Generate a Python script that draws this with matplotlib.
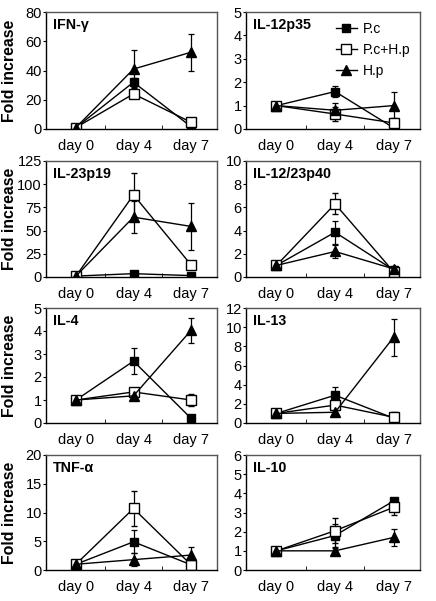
import matplotlib
matplotlib.use("Agg")
import matplotlib.pyplot as plt
from matplotlib.lines import Line2D
import numpy as np

plt.rcParams['font.family'] = ['Liberation Sans', 'DejaVu Sans']

days = ["day 0", "day 4", "day 7"]
series_names = ["P.c", "P.c+H.p", "H.p"]

panel_titles = ["IFN-\u03b3", "IL-12p35", "IL-23p19", "IL-12/23p40",
                "IL-4", "IL-13", "TNF-\u03b1", "IL-10"]
y_max = [80, 5, 125, 10, 5, 12, 20, 6]
y_step = [20, 1, 25, 2, 1, 2, 5, 1]

# values: [P.c, P.c+H.p, H.p] each over day 0, 4, 7
ifn_vals = [[1, 32, 1.6], [1, 24, 4.6], [1, 41, 52.5]]
ifn_err = [[0, 3, 0], [0, 3, 0], [0, 13, 12.5]]
p35_vals = [[1, 1.6, 0.05], [1, 0.64, 0.26], [1, 0.8, 1.0]]
p35_err = [[0, 0.22, 0], [0, 0.3, 0.2], [0, 0.32, 0.57]]
p19_vals = [[1, 3.6, 1.5], [1, 88.5, 13], [1, 64.5, 54.5]]
p19_err = [[0, 1, 0], [0, 24, 0], [0, 17, 25.5]]
p40_vals = [[1, 3.86, 0.6], [1, 6.3, 0.45], [1, 2.2, 0.7]]
p40_err = [[0, 1.0, 0.2], [0, 0.9, 0.2], [0, 0.56, 0.22]]
il4_vals = [[1, 2.69, 0.2], [1, 1.35, 1.0], [1, 1.18, 4.03]]
il4_err = [[0, 0.55, 0], [0, 0.1, 0.25], [0, 0.2, 0.53]]
il13_vals = [[1, 2.9, 0.5], [1, 1.87, 0.6], [1, 1.12, 8.95]]
il13_err = [[0, 0.9, 0.5], [0, 0.3, 0.6], [0, 0.2, 1.95]]
tnf_vals = [[1, 4.9, 0.9], [1, 10.7, 0.9], [1, 1.8, 2.6]]
tnf_err = [[0, 2.0, 0], [0, 3.0, 0], [0, 1.1, 1.4]]
il10_vals = [[1, 1.8, 3.6], [1, 2.05, 3.27], [1, 1.0, 1.7]]
il10_err = [[0, 0.6, 0], [0, 0.65, 0.4], [0, 0.15, 0.45]]

all_vals = [ifn_vals, p35_vals, p19_vals, p40_vals, il4_vals, il13_vals, tnf_vals, il10_vals]
all_errs = [ifn_err, p35_err, p19_err, p40_err, il4_err, il13_err, tnf_err, il10_err]

W, H = 436, 601
fig = plt.figure(figsize=(W / 100, H / 100), dpi=100)

# pixel layout (top, bottom) and (left, right)
row_tb = [(12, 129), (161, 277), (308, 423), (455, 570)]
col_lr = [(46, 217), (246, 420)]

markers = [dict(marker='s', mfc='black', mec='black', ms=6),
           dict(marker='s', mfc='white', mec='black', ms=7, mew=1),
           dict(marker='^', mfc='black', mec='black', ms=7)]

x = np.arange(3)
for i in range(8):
    r, c = divmod(i, 2)
    t, b = row_tb[r]
    l, rr = col_lr[c]
    ax = fig.add_axes([l / W, 1 - b / H, (rr - l) / W, (b - t) / H])
    vals = all_vals[i]
    errs = all_errs[i]
    for s in range(3):
        ax.errorbar(x, vals[s], yerr=errs[s], color='black', lw=1.0,
                    elinewidth=0.9, capsize=2, capthick=0.9,
                    **markers[s])
    ax.set_xlim(-0.52, 2.45)
    ax.set_ylim(0, y_max[i])
    ax.set_yticks(np.arange(0, y_max[i] + 0.001, y_step[i]))
    ax.set_xticks(x)
    ax.set_xticklabels(days)
    ax.set_xticks([0.5, 1.5], minor=True)
    ax.tick_params(axis='x', which='major', length=0, labelsize=10.5, pad=7)
    ax.tick_params(axis='x', which='minor', length=3, direction='in')
    ax.tick_params(axis='y', length=2.5, direction='out', labelsize=10.5, pad=0.5)
    for sp in ['top', 'right']:
        ax.spines[sp].set_color('#555555')
    for sp in ax.spines.values():
        sp.set_linewidth(1.0)
    ax.text(0.04, 0.95, panel_titles[i], transform=ax.transAxes,
            fontsize=10.3, fontweight='bold', va='top', ha='left')
    if c == 0:
        ax.set_ylabel("Fold increase", fontsize=11.4, fontweight='bold')
        ax.yaxis.set_label_coords((17 - l) / (rr - l), 0.5)
    if i == 1:
        handles = [Line2D([0], [0], color='black', lw=1.0, **markers[s]) for s in range(3)]
        ax.legend(handles, series_names, loc='upper right', frameon=False, fontsize=10,
                  handlelength=1.55, handletextpad=0.4, labelspacing=0.5,
                  borderaxespad=0.3, bbox_to_anchor=(1.0, 1.0))

fig.savefig("out.png", dpi=100)
